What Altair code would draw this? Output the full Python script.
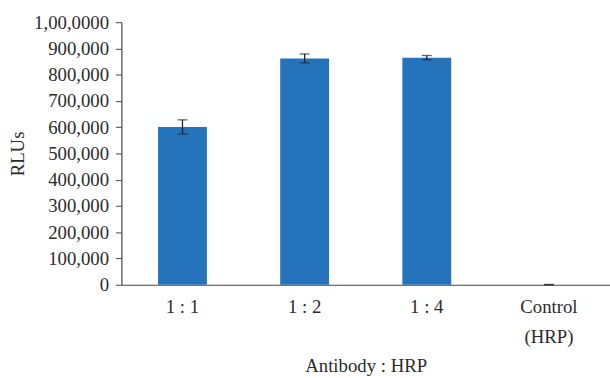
import altair as alt
import pandas as pd

categories = ["1 : 1", "1 : 2", "1 : 4", "Control\n(HRP)"]
values = [601000, 862000, 865000, 300]
errors = [27000, 17000, 8000, 800]

df = pd.DataFrame({"cat": categories, "val": values, "err": errors})
df["lo"] = df["val"] - df["err"]
df["hi"] = df["val"] + df["err"]

FONT = "Liberation Serif"
TXT = "#2b2b2b"
FS = 19

xaxis = alt.Axis(
    title="Antibody : HRP",
    labelAngle=0,
    ticks=False,
    labelPadding=13,
    labelExpr="split(datum.label, '\\n')",
    labelLineHeight=31,
    labelOverlap=False,
    titlePadding=10,
    domainColor="#444444",
    domainWidth=1.2,
)
xscale = alt.Scale(paddingInner=0.6, paddingOuter=0.3)

yscale = alt.Scale(domain=[0, 1000000], nice=False)
yaxis = alt.Axis(
    title="RLUs",
    values=list(range(0, 1000001, 100000)),
    labelExpr="datum.value == 1000000 ? '1,00,0000' : format(datum.value, ',')",
    labelOverlap=False,
    labelBound=False,
    tickSize=6,
    labelPadding=7,
    grid=False,
    domainColor="#444444",
    domainWidth=1.2,
    tickColor="#444444",
    titleAngle=-90,
    titleX=-105,
    titleY=133,
    titleAlign="center",
    titleBaseline="middle",
)

def X():
    return alt.X("cat:N", sort=categories, scale=xscale, axis=xaxis)

def Y(f):
    return alt.Y(f, type="quantitative", scale=yscale, axis=yaxis)

bars = alt.Chart(df).mark_bar(color="#2473BB").encode(x=X(), y=Y("val"))
rules = alt.Chart(df).mark_rule(color="#222222", strokeWidth=1.3).encode(
    x=X(), y=Y("lo"), y2="hi:Q"
)
cap_lo = alt.Chart(df).mark_tick(color="#222222", thickness=1.3, size=10, orient="horizontal").encode(
    x=X(), y=Y("lo")
)
cap_hi = alt.Chart(df).mark_tick(color="#222222", thickness=1.3, size=10, orient="horizontal").encode(
    x=X(), y=Y("hi")
)

chart = (
    alt.layer(bars, rules, cap_lo, cap_hi)
    .properties(
        width=495,
        height=266,
        autosize=alt.AutoSizeParams(type="none"),
        padding={"left": 123, "top": 20, "right": 0, "bottom": 92},
    )
    .configure_view(stroke=None)
    .configure_axis(
        labelFont=FONT,
        titleFont=FONT,
        labelFontSize=FS,
        titleFontSize=FS,
        labelColor=TXT,
        titleColor=TXT,
        titleFontWeight="normal",
    )
)

chart.save("out.html", embed_options={"renderer": "svg", "actions": False})
